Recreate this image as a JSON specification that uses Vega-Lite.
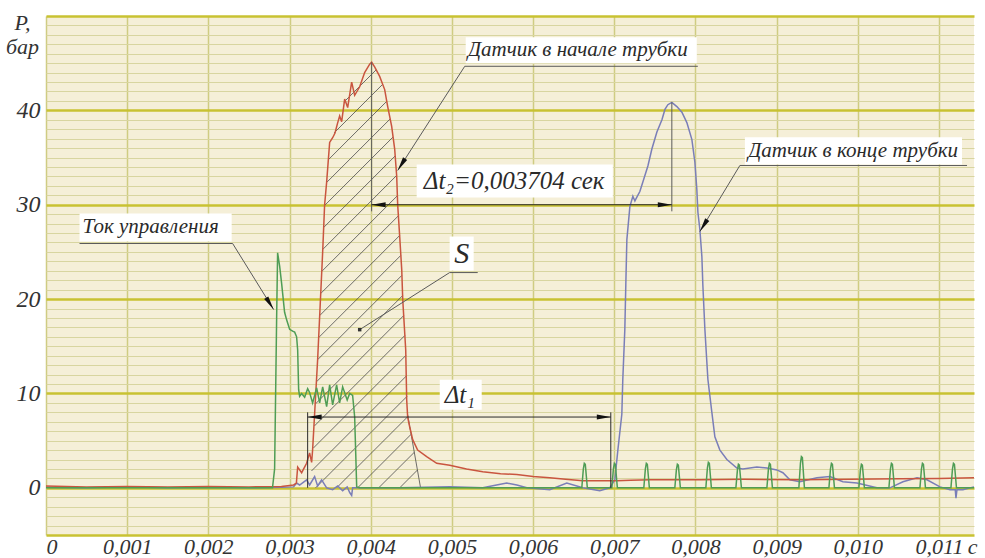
{
 "$schema": "https://vega.github.io/schema/vega-lite/v6.json",
 "width": 928, "height": 519,
 "autosize": {"type": "none"},
 "padding": {"left": 46, "top": 16, "right": 11, "bottom": 23},
 "background": "white",
 "config": {"view": {"fill": "#f5efd8", "stroke": null}, "font": "Liberation Sans Narrow"},
 "datasets": {
  "red": [{"t":0,"p":0.2},{"t":0.5,"p":0.1},{"t":1,"p":0.15},{"t":1.5,"p":0.1},{"t":2,"p":0.15},{"t":2.5,"p":0.1},{"t":2.9,"p":0.15},{"t":3.05,"p":0.3},{"t":3.084,"p":0.5},{"t":3.1,"p":2.2},{"t":3.149,"p":1.6},{"t":3.21,"p":2.6},{"t":3.247,"p":3.7},{"t":3.272,"p":2.7},{"t":3.284,"p":4.0},{"t":3.346,"p":13.6},{"t":3.408,"p":25.0},{"t":3.432,"p":30.0},{"t":3.457,"p":32.4},{"t":3.494,"p":36.6},{"t":3.531,"p":37.1},{"t":3.56,"p":37.6},{"t":3.59,"p":38.6},{"t":3.617,"p":39.4},{"t":3.642,"p":38.8},{"t":3.679,"p":41.2},{"t":3.716,"p":40.3},{"t":3.765,"p":43.0},{"t":3.802,"p":41.6},{"t":3.864,"p":42.5},{"t":3.925,"p":44.0},{"t":3.987,"p":44.9},{"t":4.011,"p":45.1},{"t":4.048,"p":44.6},{"t":4.11,"p":43.6},{"t":4.172,"p":42.2},{"t":4.209,"p":40.4},{"t":4.258,"p":38.3},{"t":4.295,"p":35.9},{"t":4.32,"p":33.0},{"t":4.332,"p":30.0},{"t":4.357,"p":26.6},{"t":4.382,"p":23.1},{"t":4.394,"p":20.0},{"t":4.431,"p":14.6},{"t":4.443,"p":9.3},{"t":4.455,"p":7.5},{"t":4.479,"p":6.5},{"t":4.517,"p":5.1},{"t":4.578,"p":4.0},{"t":4.689,"p":3.3},{"t":4.813,"p":2.6},{"t":4.973,"p":2.4},{"t":5.18,"p":2.0},{"t":5.38,"p":1.7},{"t":5.6,"p":1.5},{"t":5.799,"p":1.4},{"t":6.0,"p":1.2},{"t":6.205,"p":1.06},{"t":6.4,"p":0.9},{"t":6.612,"p":0.74},{"t":6.8,"p":0.75},{"t":7.031,"p":0.74},{"t":7.2,"p":0.8},{"t":7.438,"p":0.85},{"t":7.7,"p":0.85},{"t":8.054,"p":0.85},{"t":8.6,"p":0.9},{"t":9.286,"p":0.85},{"t":9.9,"p":0.9},{"t":10.519,"p":0.95},{"t":11.0,"p":1.0},{"t":11.431,"p":1.06}],
  "blue": [{"t":0,"p":0.05},{"t":0.5,"p":0.0},{"t":1,"p":0.1},{"t":1.5,"p":0.0},{"t":2,"p":0.05},{"t":2.5,"p":0.0},{"t":2.9,"p":0.05},{"t":3.05,"p":0.1},{"t":3.087,"p":0.5},{"t":3.124,"p":0.3},{"t":3.21,"p":0.85},{"t":3.247,"p":0.3},{"t":3.309,"p":1.2},{"t":3.346,"p":0.2},{"t":3.395,"p":0.85},{"t":3.457,"p":0.0},{"t":3.531,"p":-0.2},{"t":3.593,"p":0.2},{"t":3.654,"p":-0.3},{"t":3.71,"p":0.1},{"t":3.741,"p":-0.5},{"t":3.765,"p":-0.8},{"t":3.777,"p":0.0},{"t":3.987,"p":0.0},{"t":4.357,"p":0.0},{"t":4.973,"p":0.1},{"t":5.38,"p":0.0},{"t":5.55,"p":0.3},{"t":5.676,"p":0.5},{"t":5.8,"p":0.3},{"t":5.923,"p":0.0},{"t":6.205,"p":-0.2},{"t":6.415,"p":0.5},{"t":6.612,"p":0.0},{"t":6.821,"p":-0.3},{"t":6.945,"p":0.0},{"t":7.007,"p":0.85},{"t":7.044,"p":4.0},{"t":7.093,"p":7.8},{"t":7.105,"p":11.5},{"t":7.13,"p":16.8},{"t":7.142,"p":21.5},{"t":7.155,"p":26.3},{"t":7.192,"p":29.8},{"t":7.229,"p":30.9},{"t":7.254,"p":30.4},{"t":7.278,"p":30.8},{"t":7.315,"p":31.4},{"t":7.352,"p":32.4},{"t":7.414,"p":34.1},{"t":7.463,"p":35.9},{"t":7.525,"p":37.7},{"t":7.587,"p":39.0},{"t":7.624,"p":40.1},{"t":7.66,"p":40.6},{"t":7.709,"p":40.85},{"t":7.771,"p":40.4},{"t":7.833,"p":39.8},{"t":7.894,"p":38.7},{"t":7.956,"p":36.9},{"t":7.993,"p":34.5},{"t":8.017,"p":31.6},{"t":8.03,"p":29.2},{"t":8.054,"p":27.4},{"t":8.079,"p":24.5},{"t":8.091,"p":21.5},{"t":8.116,"p":16.8},{"t":8.153,"p":11.5},{"t":8.202,"p":8.0},{"t":8.239,"p":5.4},{"t":8.301,"p":4.0},{"t":8.387,"p":3.0},{"t":8.51,"p":2.1},{"t":8.584,"p":2.0},{"t":8.756,"p":2.2},{"t":8.88,"p":2.1},{"t":9.003,"p":1.9},{"t":9.077,"p":1.6},{"t":9.163,"p":0.85},{"t":9.286,"p":0.64},{"t":9.496,"p":1.06},{"t":9.656,"p":1.2},{"t":9.816,"p":0.64},{"t":9.989,"p":0.5},{"t":10.235,"p":0.0},{"t":10.396,"p":0.0},{"t":10.556,"p":0.64},{"t":10.729,"p":1.06},{"t":10.852,"p":0.85},{"t":11.012,"p":0.1},{"t":11.135,"p":-0.2},{"t":11.2,"p":-0.2},{"t":11.209,"p":-1.1},{"t":11.221,"p":-0.2},{"t":11.295,"p":-0.2},{"t":11.431,"p":0.1}],
  "green": [{"t":0,"p":0},{"t":2.79,"p":0},{"t":2.816,"p":2},{"t":2.841,"p":18},{"t":2.853,"p":24.9},{"t":2.878,"p":23.5},{"t":2.902,"p":21.7},{"t":2.939,"p":18.6},{"t":2.964,"p":17.8},{"t":3.001,"p":16.8},{"t":3.038,"p":16.6},{"t":3.063,"p":16.5},{"t":3.087,"p":16.0},{"t":3.1,"p":14.6},{"t":3.112,"p":10.4},{"t":3.124,"p":9.7},{"t":3.149,"p":10.0},{"t":3.186,"p":9.6},{"t":3.223,"p":10.5},{"t":3.247,"p":10.1},{"t":3.284,"p":9.0},{"t":3.334,"p":10.6},{"t":3.371,"p":9.0},{"t":3.408,"p":10.7},{"t":3.457,"p":8.6},{"t":3.494,"p":10.9},{"t":3.531,"p":8.8},{"t":3.58,"p":10.9},{"t":3.617,"p":9.0},{"t":3.654,"p":10.7},{"t":3.71,"p":9.3},{"t":3.741,"p":10.0},{"t":3.777,"p":9.8},{"t":3.802,"p":7.5},{"t":3.814,"p":4.0},{"t":3.827,"p":0.1},{"t":3.864,"p":0},
   {"t":6.6,"p":0},{"t":6.619,"p":2.0},{"t":6.631,"p":2.6},{"t":6.643,"p":2.5},{"t":6.668,"p":0},
   {"t":6.97,"p":0},{"t":6.989,"p":2.0},{"t":7.001,"p":2.6},{"t":7.013,"p":2.5},{"t":7.038,"p":0},
   {"t":7.364,"p":0},{"t":7.383,"p":2.0},{"t":7.395,"p":2.6},{"t":7.407,"p":2.5},{"t":7.432,"p":0},
   {"t":7.746,"p":0},{"t":7.765,"p":1.9},{"t":7.777,"p":2.5},{"t":7.789,"p":2.4},{"t":7.814,"p":0},
   {"t":8.128,"p":0},{"t":8.147,"p":2.1},{"t":8.159,"p":2.7},{"t":8.171,"p":2.6},{"t":8.196,"p":0},
   {"t":8.498,"p":0},{"t":8.517,"p":1.9},{"t":8.529,"p":2.5},{"t":8.541,"p":2.4},{"t":8.566,"p":0},
   {"t":8.88,"p":0},{"t":8.899,"p":2.0},{"t":8.911,"p":2.6},{"t":8.923,"p":2.5},{"t":8.948,"p":0},
   {"t":9.274,"p":0},{"t":9.293,"p":2.6},{"t":9.305,"p":3.3},{"t":9.317,"p":3.2},{"t":9.342,"p":0},
   {"t":9.644,"p":0},{"t":9.663,"p":2.0},{"t":9.675,"p":2.6},{"t":9.687,"p":2.5},{"t":9.712,"p":0},
   {"t":10.013,"p":0},{"t":10.032,"p":1.9},{"t":10.044,"p":2.5},{"t":10.056,"p":2.4},{"t":10.081,"p":0},
   {"t":10.383,"p":0},{"t":10.402,"p":2.0},{"t":10.414,"p":2.6},{"t":10.426,"p":2.5},{"t":10.451,"p":0},
   {"t":10.765,"p":0},{"t":10.784,"p":2.0},{"t":10.796,"p":2.6},{"t":10.808,"p":2.5},{"t":10.833,"p":0},
   {"t":11.147,"p":0},{"t":11.166,"p":2.0},{"t":11.178,"p":2.6},{"t":11.19,"p":2.5},{"t":11.215,"p":0},
   {"t":11.431,"p":0}],
  "hatch": [{"t":4.357,"p":0,"t2":4.576,"p2":1.889},{"t":4.098,"p":0,"t2":4.538,"p2":3.777},{"t":3.839,"p":0,"t2":4.498,"p2":5.676},{"t":3.58,"p":0,"t2":4.459,"p2":7.565},{"t":3.321,"p":0,"t2":4.448,"p2":9.698},{"t":3.27,"p":1.782,"t2":4.44,"p2":11.862},{"t":3.292,"p":4.202,"t2":4.433,"p2":14.027},{"t":3.305,"p":6.546,"t2":4.421,"p2":16.149},{"t":3.319,"p":8.891,"t2":4.406,"p2":18.249},{"t":3.332,"p":11.236,"t2":4.392,"p2":20.361},{"t":3.346,"p":13.581,"t2":4.384,"p2":22.515},{"t":3.358,"p":15.915,"t2":4.37,"p2":24.626},{"t":3.371,"p":18.249,"t2":4.355,"p2":26.727},{"t":3.383,"p":20.584,"t2":4.341,"p2":28.828},{"t":3.395,"p":22.918,"t2":4.328,"p2":30.95},{"t":3.408,"p":25.252,"t2":4.318,"p2":33.093},{"t":3.42,"p":27.586,"t2":4.301,"p2":35.172},{"t":3.432,"p":29.92,"t2":4.275,"p2":37.178},{"t":3.457,"p":32.361,"t2":4.24,"p2":39.098},{"t":3.478,"p":34.769,"t2":4.198,"p2":40.966},{"t":3.549,"p":37.613,"t2":4.148,"p2":42.769},{"t":3.669,"p":40.87,"t2":4.066,"p2":44.287},{"t":4.455,"p":7.745,"t2":4.614,"p2":0}],
  "leaders": [{"t":5.158,"p":44.67,"t2":8.029,"p2":44.67},{"t":5.158,"p":44.67,"t2":4.332,"p2":33.63},{"t":8.547,"p":34.16,"t2":11.345,"p2":34.16},{"t":8.547,"p":34.16,"t2":8.054,"p2":27.16},{"t":0.413,"p":25.89,"t2":2.299,"p2":25.89},{"t":2.299,"p":25.89,"t2":2.804,"p2":18.89},{"t":4.972,"p":22.81,"t2":5.318,"p2":22.81},{"t":4.972,"p":22.81,"t2":3.864,"p2":16.76},{"t":4.011,"p":45.1,"t2":4.011,"p2":29.3},{"t":7.709,"p":40.85,"t2":7.709,"p2":29.3}],
  "dims": [{"t":4.011,"p":30,"t2":7.709,"p2":30},{"t":3.223,"p":8.0,"t2":3.223,"p2":0},{"t":6.957,"p":8.0,"t2":6.957,"p2":0},{"t":3.223,"p":7.5,"t2":6.957,"p2":7.5}],
  "arrows": [{"t":4.011,"p":30,"dir":"left"},{"t":3.223,"p":7.5,"dir":"left"},{"t":7.709,"p":30,"dir":"right"},{"t":6.957,"p":7.5,"dir":"right"},{"t":4.332,"p":33.63,"dir":"downleft"},{"t":8.054,"p":27.16,"dir":"downleft"},{"t":2.804,"p":18.89,"dir":"downright"}],
  "dot": [{"t":3.864,"p":16.76}],
  "boxes": [{"t":5.17,"p":47.75,"t2":8.017,"p2":45.0},{"t":8.609,"p":37.14,"t2":11.283,"p2":34.27},{"t":0.413,"p":29.07,"t2":2.287,"p2":26.1},{"t":4.566,"p":34.27,"t2":6.982,"p2":30.77},{"t":4.972,"p":26.63,"t2":5.268,"p2":23.02},{"t":4.85,"p":11.46,"t2":5.367,"p2":8.28}],
  "texts": [{"t":5.194,"p":46.4,"label":"Датчик в начале трубки","g":"callout"},{"t":8.646,"p":35.65,"label":"Датчик в конце трубки","g":"callout"},{"t":0.45,"p":27.59,"label":"Ток управления","g":"callout"},{"t":4.653,"p":32.47,"label":"Δt₂=0,003704 сек","g":"dim"},{"t":4.911,"p":9.87,"label":"Δt₁","g":"dim"},{"t":5.12,"p":24.8,"label":"S","g":"area"}]
 },
 "encoding": {
  "x": {"field": "t", "type": "quantitative",
   "scale": {"domain": [0, 11.431], "nice": false, "zero": false},
   "axis": {"values": [0,1,2,3,4,5,6,7,8,9,10,11], "grid": true, "gridColor": "#cfcc82", "gridWidth": 1.5, "ticks": false, "domain": false,
    "labelExpr": "datum.value === 0 ? '0' : replace(format(datum.value/1000, '.3f'), '.', ',')",
    "labelFlush": true, "labelOverlap": false, "labelFont": "Liberation Sans Narrow", "labelFontSize": 22, "labelFontStyle": "italic", "labelColor": "#333333", "labelBaseline": "alphabetic", "labelPadding": 18,
    "title": "с", "titleX": 926, "titleY": 18, "titleAlign": "center", "titleBaseline": "alphabetic", "titleFont": "Liberation Sans Narrow", "titleFontWeight": "normal", "titleFontStyle": "italic", "titleFontSize": 22, "titleColor": "#333333"}},
  "y": {"field": "p", "type": "quantitative",
   "scale": {"domain": [-5, 50], "nice": false, "zero": false},
   "axis": {"values": [-5,-4,-3,-2,-1,0,1,2,3,4,5,6,7,8,9,10,11,12,13,14,15,16,17,18,19,20,21,22,23,24,25,26,27,28,29,30,31,32,33,34,35,36,37,38,39,40,41,42,43,44,45,46,47,48,49,50],
    "grid": true,
    "gridColor": {"condition": {"test": "datum.value % 10 === 0 || datum.value === -5", "value": "#c8c232"}, "value": "#d8d5a0"},
    "gridWidth": {"condition": {"test": "datum.value % 10 === 0 || datum.value === -5", "value": 2.5}, "value": 1},
    "ticks": false, "domain": false, "labelOverlap": false,
    "labelExpr": "datum.value % 10 === 0 && datum.value < 50 ? datum.label : ''",
    "labelFont": "Liberation Sans Narrow", "labelFontSize": 24, "labelFontStyle": "italic", "labelColor": "#333333", "labelPadding": 6,
    "title": ["P,", "бар"], "titleAngle": 0, "titleX": -24, "titleY": -4, "titleAlign": "center", "titleBaseline": "top", "titleFont": "Liberation Sans Narrow", "titleFontWeight": "normal", "titleFontStyle": "italic", "titleFontSize": 22, "titleLineHeight": 24, "titleColor": "#333333"}}
 },
 "layer": [
  {"data": {"name": "hatch"}, "mark": {"type": "rule", "color": "#4a4a4a", "strokeWidth": 0.8}, "encoding": {"x2": {"field": "t2"}, "y2": {"field": "p2"}}},
  {"data": {"name": "blue"}, "mark": {"type": "line", "color": "#7a7eb8", "strokeWidth": 1.5}, "encoding": {}},
  {"data": {"name": "red"}, "mark": {"type": "line", "color": "#c9553f", "strokeWidth": 1.5}, "encoding": {}},
  {"data": {"name": "green"}, "mark": {"type": "line", "color": "#4f9d55", "strokeWidth": 1.5}, "encoding": {}},
  {"data": {"name": "leaders"}, "mark": {"type": "rule", "color": "#5a5a5a", "strokeWidth": 1}, "encoding": {"x2": {"field": "t2"}, "y2": {"field": "p2"}}},
  {"data": {"name": "dims"}, "mark": {"type": "rule", "color": "#2a2a2a", "strokeWidth": 1}, "encoding": {"x2": {"field": "t2"}, "y2": {"field": "p2"}}},
  {"data": {"name": "boxes"}, "mark": {"type": "rect", "fill": "#ffffff", "strokeWidth": 0}, "encoding": {"x2": {"field": "t2"}, "y2": {"field": "p2"}}},
  {"data": {"name": "arrows"}, "transform": [{"filter": "datum.dir === 'right'"}], "mark": {"type": "point", "shape": "M0,0L-2,-0.35L-2,0.35Z", "size": 196, "filled": true, "color": "#111111", "opacity": 1, "angle": 0}},
  {"data": {"name": "arrows"}, "transform": [{"filter": "datum.dir === 'left'"}], "mark": {"type": "point", "shape": "M0,0L-2,-0.35L-2,0.35Z", "size": 196, "filled": true, "color": "#111111", "opacity": 1, "angle": 180}},
  {"data": {"name": "arrows"}, "transform": [{"filter": "datum.dir === 'downleft'"}], "mark": {"type": "point", "shape": "M0,0L-2,-0.35L-2,0.35Z", "size": 196, "filled": true, "color": "#111111", "opacity": 1, "angle": 122}},
  {"data": {"name": "arrows"}, "transform": [{"filter": "datum.dir === 'downright'"}], "mark": {"type": "point", "shape": "M0,0L-2,-0.35L-2,0.35Z", "size": 196, "filled": true, "color": "#111111", "opacity": 1, "angle": 58}},
  {"data": {"name": "dot"}, "mark": {"type": "point", "shape": "square", "size": 12, "filled": true, "color": "#333333", "opacity": 1}},
  {"data": {"name": "texts"}, "transform": [{"filter": "datum.g === 'callout'"}], "mark": {"type": "text", "align": "left", "baseline": "middle", "font": "Liberation Sans Narrow", "fontStyle": "italic", "fontSize": 21, "color": "#2a2a2a"}, "encoding": {"text": {"field": "label"}}},
  {"data": {"name": "texts"}, "transform": [{"filter": "datum.g === 'dim'"}], "mark": {"type": "text", "align": "left", "baseline": "middle", "font": "Liberation Sans Narrow", "fontStyle": "italic", "fontSize": 25, "color": "#2a2a2a"}, "encoding": {"text": {"field": "label"}}},
  {"data": {"name": "texts"}, "transform": [{"filter": "datum.g === 'area'"}], "mark": {"type": "text", "align": "center", "baseline": "middle", "font": "Liberation Sans Narrow", "fontStyle": "italic", "fontSize": 30, "color": "#2a2a2a"}, "encoding": {"text": {"field": "label"}}}
 ]
}
